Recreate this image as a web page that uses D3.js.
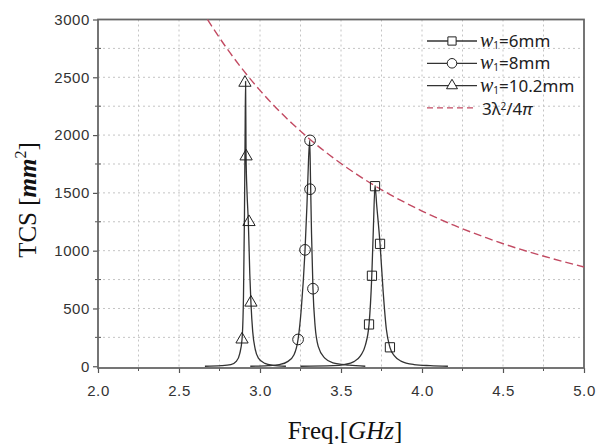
<!DOCTYPE html>
<html>
<head>
<meta charset="utf-8">
<script src="https://cdn.jsdelivr.net/npm/d3@7"></script>
<style>
  body { margin: 0; background: #fff; }
  svg { display: block; }
</style>
</head>
<body>
<svg id="chart" width="606" height="444"></svg>
<script>
// resonance curve of w1 = 10.2mm
var freq102 = [2.66, 2.76, 2.82, 2.855, 2.875, 2.889, 2.898, 2.904, 2.908, 2.911, 2.914, 2.92, 2.928, 2.937, 2.944, 2.955, 2.97, 2.99, 3.03, 3.08, 3.16];
var tcs102  = [0, 5, 15, 45, 110, 232, 600, 1300, 2000, 2465, 1816, 1500, 1248, 800, 551, 300, 150, 70, 25, 8, 0];

// resonance curve of w1 = 8mm
var freq8 = [2.94, 3.05, 3.12, 3.17, 3.21, 3.235, 3.255, 3.278, 3.29, 3.3, 3.307, 3.312, 3.318, 3.327, 3.34, 3.36, 3.4, 3.45, 3.55, 3.65];
var tcs8  = [0, 5, 15, 40, 100, 232, 500, 1007, 1400, 1800, 1955, 1600, 1150, 671, 350, 170, 70, 30, 10, 0];

// resonance curve of w1 = 6mm
var freq6 = [3.25, 3.45, 3.52, 3.58, 3.62, 3.65, 3.673, 3.69, 3.7, 3.71, 3.72, 3.741, 3.76, 3.78, 3.802, 3.83, 3.87, 3.95, 4.05, 4.16];
var tcs6  = [0, 5, 15, 40, 90, 180, 362, 780, 1200, 1565, 1400, 1059, 650, 320, 164, 90, 45, 15, 5, 0];

// marker positions
var mark102F = [2.889, 2.907, 2.914, 2.932, 2.944];
var mark102V = [232, 2453, 1816, 1248, 551];
var mark8F = [3.235, 3.278, 3.309, 3.309, 3.327];
var mark8V = [232, 1007, 1532, 1954, 671];
var mark6F = [3.673, 3.691, 3.71, 3.741, 3.802];
var mark6V = [362, 783, 1558, 1059, 164];

// 3 lambda^2 / 4 pi limit
var limitF = [2.676, 2.7, 2.8, 2.9, 3.0, 3.1, 3.2, 3.3, 3.4, 3.5, 3.6, 3.7, 3.8, 3.9, 4.0, 4.2, 4.4, 4.6, 4.8, 5.0];
var limitV = [3000, 2947, 2741, 2555, 2387, 2235, 2098, 1973, 1859, 1754, 1658, 1569, 1488, 1413, 1343, 1218, 1110, 1015, 933, 859];

var xTicks = [2.0, 2.5, 3.0, 3.5, 4.0, 4.5, 5.0];
var yTicks = [0, 500, 1000, 1500, 2000, 2500, 3000];
var legendLabels = ['6mm', '8mm', '10.2mm'];

(function() {
  var svg = d3.select('#chart');

  var pLeft = 98, pRight = 584, pTop = 19.5, pBottom = 368;

  var x = d3.scaleLinear()
    .domain([2, 5])
    .range([pLeft, pRight]);
  var y = d3.scaleLinear()
    .domain([-15, 3000])
    .range([pBottom, pTop]);

  function pairs(fs, vs) {
    return fs.map(function(f, i) { return { f: f, v: vs[i] }; });
  }

  // dotted grid every 0.25 GHz / 250 mm2
  var gridX = d3.range(2.25, 4.9, 0.25),
      gridY = d3.range(250, 2900, 250);

  svg.append('g').selectAll('line')
    .data(gridX)
    .enter().append('line')
      .attr('x1', function(d) { return x(d); })
      .attr('x2', function(d) { return x(d); })
      .attr('y1', pTop)
      .attr('y2', pBottom)
      .attr('stroke', '#c4c4c4')
      .attr('stroke-dasharray', '2,3');

  svg.append('g').selectAll('line')
    .data(gridY)
    .enter().append('line')
      .attr('x1', pLeft)
      .attr('x2', pRight)
      .attr('y1', function(d) { return y(d); })
      .attr('y2', function(d) { return y(d); })
      .attr('stroke', '#c4c4c4')
      .attr('stroke-dasharray', '2,3');

  // axes
  var xAxis = d3.axisBottom(x)
    .tickValues(xTicks)
    .tickSize(5)
    .tickFormat(d3.format('.1f'));
  var yAxis = d3.axisLeft(y)
    .tickValues(yTicks)
    .tickSize(5)
    .tickFormat(d3.format('d'));

  var gx = svg.append('g')
    .attr('transform', 'translate(0,' + pBottom + ')')
    .call(xAxis);
  var gy = svg.append('g')
    .attr('transform', 'translate(' + pLeft + ',0)')
    .call(yAxis);

  [gx, gy].forEach(function(g) {
    g.select('.domain').remove();
    g.selectAll('line').attr('stroke', '#555').attr('stroke-width', 1.2);
    g.selectAll('text')
      .attr('font-family', 'Liberation Sans, Arial, sans-serif')
      .attr('font-size', 15)
      .attr('letter-spacing', 0.6)
      .attr('fill', '#333');
  });
  gx.selectAll('text').attr('dy', '1.35em');
  gy.selectAll('text').attr('x', -8);

  // minor ticks
  svg.append('g').selectAll('line')
    .data(d3.range(2.25, 5, 0.5))
    .enter().append('line')
      .attr('x1', function(d) { return x(d); })
      .attr('x2', function(d) { return x(d); })
      .attr('y1', pBottom)
      .attr('y2', pBottom + 3)
      .attr('stroke', '#555');
  svg.append('g').selectAll('line')
    .data(d3.range(250, 3000, 500))
    .enter().append('line')
      .attr('x1', pLeft - 3)
      .attr('x2', pLeft + 3)
      .attr('y1', function(d) { return y(d); })
      .attr('y2', function(d) { return y(d); })
      .attr('stroke', '#555');

  // frame
  svg.append('rect')
    .attr('x', pLeft)
    .attr('y', pTop)
    .attr('width', pRight - pLeft)
    .attr('height', pBottom - pTop)
    .attr('fill', 'none')
    .attr('stroke', '#666')
    .attr('stroke-width', 1.8);

  var line = d3.line()
    .x(function(d) { return x(d.f); })
    .y(function(d) { return y(d.v); })
    .curve(d3.curveMonotoneX);

  // theoretical limit
  svg.append('path')
    .datum(pairs(limitF, limitV))
    .attr('d', line)
    .attr('fill', 'none')
    .attr('stroke', '#c24a62')
    .attr('stroke-width', 1.4)
    .attr('stroke-dasharray', '8,4');

  var series = [
    { f: freq6, v: tcs6, mf: mark6F, mv: mark6V, sym: d3.symbolSquare, size: 85 },
    { f: freq8, v: tcs8, mf: mark8F, mv: mark8V, sym: d3.symbolCircle, size: 90 },
    { f: freq102, v: tcs102, mf: mark102F, mv: mark102V, sym: d3.symbolTriangle, size: 65 }
  ];

  series.forEach(function(s) {
    svg.append('path')
      .datum(pairs(s.f, s.v))
      .attr('d', line)
      .attr('fill', 'none')
      .attr('stroke', '#333')
      .attr('stroke-width', 1.3);
  });

  series.forEach(function(s) {
    svg.append('g').selectAll('path')
      .data(pairs(s.mf, s.mv))
      .enter().append('path')
        .attr('transform', function(d) { return 'translate(' + x(d.f) + ',' + y(d.v) + ')'; })
        .attr('d', d3.symbol().type(s.sym).size(s.size))
        .attr('fill', 'none')
        .attr('stroke', '#222')
        .attr('stroke-width', 1);
  });

  // legend
  var legend = svg.append('g')
    .attr('font-family', 'Noto Sans, sans-serif')
    .attr('font-size', 17)
    .attr('fill', '#222');

  series.forEach(function(s, i) {
    var ly = 41 + i * 22.3;
    legend.append('line')
      .attr('x1', 427).attr('x2', 477)
      .attr('y1', ly).attr('y2', ly)
      .attr('stroke', '#333')
      .attr('stroke-width', 1.3);
    legend.append('path')
      .attr('transform', 'translate(452,' + ly + ')')
      .attr('d', d3.symbol().type(s.sym).size(s.size * 0.8))
      .attr('fill', '#fff')
      .attr('stroke', '#222');
    var t = legend.append('text')
      .attr('x', 480)
      .attr('y', ly + 6);
    t.append('tspan').attr('font-family', 'Liberation Serif, serif').attr('font-style', 'italic').attr('font-size', 20).text('w');
    t.append('tspan').attr('font-size', 10).attr('dy', 2).text('1');
    t.append('tspan').attr('dy', -2).text('=' + legendLabels[i]);
  });

  var ld = 41 + 3 * 22.3;
  legend.append('line')
    .attr('x1', 427).attr('x2', 477)
    .attr('y1', ld).attr('y2', ld)
    .attr('stroke', '#c24a62')
    .attr('stroke-width', 1.3)
    .attr('stroke-dasharray', '6,4');
  var lt = legend.append('text')
    .attr('x', 482)
    .attr('y', ld + 7);
  lt.append('tspan').text('3λ');
  lt.append('tspan').attr('font-size', 10).attr('dy', -5).text('2');
  lt.append('tspan').attr('dy', 5).text('/4');
  lt.append('tspan').attr('font-style', 'italic').text('π');

  // axis titles
  var xt = svg.append('text')
    .attr('x', 345)
    .attr('y', 439)
    .attr('text-anchor', 'middle')
    .attr('font-family', 'Liberation Serif, Times New Roman, serif')
    .attr('font-size', 25)
    .attr('fill', '#111');
  xt.append('tspan').text('Freq.[');
  xt.append('tspan').attr('font-style', 'italic').text('GHz');
  xt.append('tspan').text(']');

  var yt = svg.append('text')
    .attr('transform', 'translate(36,200) rotate(-90)')
    .attr('text-anchor', 'middle')
    .attr('font-family', 'Liberation Serif, Times New Roman, serif')
    .attr('font-size', 25)
    .attr('fill', '#111');
  yt.append('tspan').text('TCS [');
  yt.append('tspan').attr('font-style', 'italic').attr('font-weight', 'bold').text('mm');
  yt.append('tspan').attr('font-size', 16).attr('dy', -10).text('2');
  yt.append('tspan').attr('dy', 10).text(']');
})();
</script>
</body>
</html>
